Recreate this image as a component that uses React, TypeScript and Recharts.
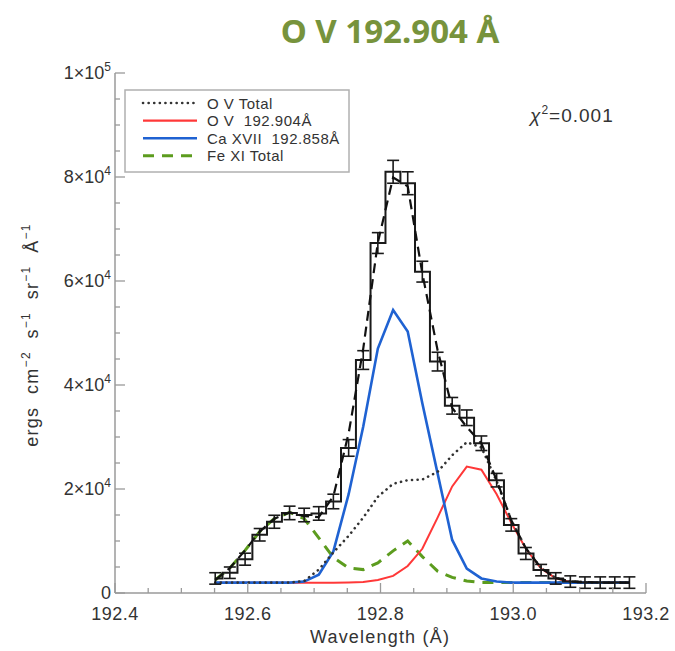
import React from 'react';
import { ComposedChart, Line, XAxis, YAxis, ErrorBar } from 'recharts';

// ---------- data ----------
const wavelengths = [
  192.551, 192.573, 192.596, 192.618, 192.640, 192.663, 192.685, 192.707, 192.729, 192.752,
  192.774, 192.796, 192.819, 192.841, 192.863, 192.886, 192.908, 192.930, 192.952, 192.975,
  192.997, 193.019, 193.042, 193.064, 193.086, 193.108, 193.131, 193.153, 193.175,
];
const observed = [
  2800, 3900, 6500, 11200, 13700, 15400, 15000, 15300, 17600, 27900,
  44800, 67300, 81000, 78800, 61800, 44500, 36000, 33700, 28800, 21700,
  13100, 7600, 4400, 2800, 2200, 2000, 2000, 2000, 2000,
];
const observedErr = [
  1100, 1100, 1150, 1200, 1250, 1300, 1300, 1300, 1400, 1600,
  1800, 2000, 2200, 2200, 2000, 1800, 1600, 1500, 1400, 1300,
  1200, 1150, 1100, 1100, 1100, 1100, 1100, 1100, 1100,
];
const totalFit = [
  2500, 4800, 8200, 11800, 14300, 15500, 14800, 14600, 18600, 30700,
  47000, 67400, 79900, 78200, 61500, 46700, 35600, 31900, 28800, 21700,
  14000, 8600, 4800, 2900, 2200, 2100, 2000, 2000, 2000,
];
const ovTotal = [
  2000, 2000, 2000, 2000, 2000, 2000, 2300, 4500, 7800, 11000,
  14500, 18500, 21000, 21700, 21800, 23300, 26500, 29000, 28000, 21500,
  14000, 8600, 4800, 2900, 2200, 2050, 2000, 2000, 2000,
];
const ov192904 = [
  1950, 1950, 1950, 1950, 1950, 1950, 1950, 1950, 1950, 2000,
  2100, 2500, 3300, 5200, 8500, 14500, 20500, 24300, 23700, 19000,
  13500, 8500, 4700, 2800, 2100, 2000, 2000, 2000, 2000,
];
const caXVII = [
  2000, 2000, 2000, 2000, 2000, 2000, 2200, 3500, 8000, 19000,
  32000, 47000, 54400, 50300, 36500, 23000, 10200, 4700, 2800, 2200,
  2000, 2000, 2000, 2000, 2000, 2000, 2000, 2000, 2000,
];
const feXITotal = [
  2500, 4800, 8200, 11800, 14300, 15500, 14300, 10600, 6800, 4800,
  4500, 5800, 8100, 10000, 7000, 4200, 3000, 2300, 2000, 2000,
  2000, 2000, 2000, 2000, 2000, 2000, 2000, 2000, 2000,
];

const xTicks = [
  192.4, 192.45, 192.5, 192.55, 192.6, 192.65, 192.7, 192.75, 192.8,
  192.85, 192.9, 192.95, 193.0, 193.05, 193.1, 193.15, 193.2,
];
const xMajorTicks = [192.4, 192.6, 192.8, 193.0, 193.2];
const xMajorLabels = ['192.4', '192.6', '192.8', '193.0', '193.2'];

const yTicks = [
  0, 5000, 10000, 15000, 20000, 25000, 30000, 35000, 40000, 45000, 50000,
  55000, 60000, 65000, 70000, 75000, 80000, 85000, 90000, 95000, 100000,
];
const yMajorTicks = [0, 20000, 40000, 60000, 80000, 100000];
const yMantissa = ['0', '2', '4', '6', '8', '1'];
const yExponent = ['', '4', '4', '4', '4', '5'];

const legendLabels = ['O V Total', 'O V  192.904Å', 'Ca XVII  192.858Å', 'Fe XI Total'];

const data = wavelengths.map((w, i) => ({
  w,
  obs: observed[i],
  err: observedErr[i],
  total: totalFit[i],
  ovTotal: ovTotal[i],
  ov: ov192904[i],
  ca: caXVII[i],
  fe: feXITotal[i],
}));

// ---------- styles ----------
const FRAME = '#9a9a9a';
const LABEL = '#333333';
const FONT = '"Liberation Sans", Arial, sans-serif';
const C_BLUE = '#1f62d2';
const C_RED = '#ff3838';
const C_GREEN = '#5c9c1e';
const C_DOT = '#333333';

const findIdx = (arr: number[], v: number) => arr.findIndex((a) => Math.abs(a - v) < 1e-6);

const BottomTick = (props: any) => {
  const { x, y, payload } = props;
  const mi = findIdx(xMajorTicks, payload.value);
  const len = mi >= 0 ? 10 : 5;
  return (
    <g>
      <line x1={x} x2={x} y1={y} y2={y - len} stroke={FRAME} strokeWidth={1.3} />
      {mi >= 0 && (
        <text x={x} y={y + 27} textAnchor="middle" fontSize={18} fill={LABEL} fontFamily={FONT} letterSpacing={0.5}>
          {xMajorLabels[mi]}
        </text>
      )}
    </g>
  );
};

const TopTick = (props: any) => {
  const { x, y, payload } = props;
  const mi = findIdx(xMajorTicks, payload.value);
  const len = mi >= 0 ? 10 : 5;
  return <line x1={x} x2={x} y1={y} y2={y + len} stroke={FRAME} strokeWidth={1.3} />;
};

const LeftTick = (props: any) => {
  const { x, y, payload } = props;
  const mi = findIdx(yMajorTicks, payload.value);
  const len = mi >= 0 ? 10 : 5;
  return (
    <g>
      <line x1={x} x2={x + len} y1={y} y2={y} stroke={FRAME} strokeWidth={1.3} />
      {mi >= 0 && (
        <text x={x - 4} y={y + 6} textAnchor="end" fontSize={18} fill={LABEL} fontFamily={FONT}>
          {yMantissa[mi]}
          {yExponent[mi] !== '' && <tspan>×10</tspan>}
          {yExponent[mi] !== '' && (
            <tspan dy={-8} fontSize={12}>
              {yExponent[mi]}
            </tspan>
          )}
        </text>
      )}
    </g>
  );
};

const RightTick = (props: any) => {
  const { x, y, payload } = props;
  const mi = findIdx(yMajorTicks, payload.value);
  const len = mi >= 0 ? 10 : 5;
  return <line x1={x} x2={x - len} y1={y} y2={y} stroke={FRAME} strokeWidth={1.3} />;
};

export default function App() {
  return (
    <div style={{ position: 'absolute', left: 0, top: 0, width: 675, height: 651, overflow: 'hidden', background: '#fff' }}>
      <ComposedChart
        width={675}
        height={651}
        data={data}
        margin={{ top: 73, right: 29, bottom: 18, left: 55 }}
      >
        <XAxis
          dataKey="w"
          type="number"
          domain={[192.4, 193.2]}
          allowDataOverflow
          ticks={xTicks}
          interval={0}
          tick={<BottomTick />}
          tickLine={false}
          tickSize={0}
          tickMargin={0}
          height={40}
          axisLine={{ stroke: FRAME, strokeWidth: 1.5 }}
        />
        <XAxis
          xAxisId="top"
          dataKey="w"
          type="number"
          orientation="top"
          domain={[192.4, 193.2]}
          allowDataOverflow
          ticks={xTicks}
          interval={0}
          tick={<TopTick />}
          tickLine={false}
          tickSize={0}
          tickMargin={0}
          height={0}
          axisLine={{ stroke: FRAME, strokeWidth: 1.5 }}
        />
        <YAxis
          type="number"
          domain={[0, 100000]}
          allowDataOverflow
          ticks={yTicks}
          interval={0}
          tick={<LeftTick />}
          tickLine={false}
          tickSize={0}
          tickMargin={0}
          width={60}
          axisLine={{ stroke: FRAME, strokeWidth: 1.5 }}
        />
        <YAxis
          yAxisId="right"
          orientation="right"
          type="number"
          domain={[0, 100000]}
          allowDataOverflow
          ticks={yTicks}
          interval={0}
          tick={<RightTick />}
          tickLine={false}
          tickSize={0}
          tickMargin={0}
          width={0}
          axisLine={{ stroke: FRAME, strokeWidth: 1.5 }}
        />
        <Line dataKey="fe" stroke={C_GREEN} strokeWidth={3} strokeDasharray="11 8" dot={false} activeDot={false} isAnimationActive={false} />
        <Line dataKey="ov" stroke={C_RED} strokeWidth={2} dot={false} activeDot={false} isAnimationActive={false} />
        <Line dataKey="ca" stroke={C_BLUE} strokeWidth={2.6} dot={false} activeDot={false} isAnimationActive={false} />
        <Line dataKey="ovTotal" stroke={C_DOT} strokeWidth={2.6} strokeDasharray="0.1 5.5" strokeLinecap="round" dot={false} activeDot={false} isAnimationActive={false} />
        <Line type="step" dataKey="obs" stroke="#1a1a1a" strokeWidth={2} dot={false} activeDot={false} isAnimationActive={false}>
          <ErrorBar dataKey="err" width={6} stroke="#1a1a1a" strokeWidth={1.6} direction="y" />
        </Line>
        <Line dataKey="total" stroke="#111" strokeWidth={2.2} strokeDasharray="10 6" dot={false} activeDot={false} isAnimationActive={false} />
      </ComposedChart>

      <svg width={675} height={651} style={{ position: 'absolute', left: 0, top: 0, pointerEvents: 'none' }}>
        <text x={390} y={43} textAnchor="middle" fontSize={33} fontWeight="bold" fill="#77933c" fontFamily='"Noto Sans", "Open Sans", sans-serif'>
          O V 192.904 Å
        </text>
        <text x={530} y={122} fontSize={19} fill={LABEL} fontFamily={FONT} letterSpacing={1}>
          <tspan fontStyle="italic">χ</tspan>
          <tspan dy={-8} fontSize={12}>2</tspan>
          <tspan dy={8}>=0.001</tspan>
        </text>
        <text x={380} y={643} textAnchor="middle" fontSize={18} fill={LABEL} fontFamily={FONT} letterSpacing={1.2}>
          Wavelength (Å)
        </text>
        <text transform="translate(38,335) rotate(-90)" textAnchor="middle" fontSize={18} fill={LABEL} fontFamily={FONT} letterSpacing={1.3} style={{ whiteSpace: 'pre' }}>
          <tspan>ergs  cm</tspan>
          <tspan dy={-8} fontSize={12}>−2</tspan>
          <tspan dy={8}>  s</tspan>
          <tspan dy={-8} fontSize={12}>−1</tspan>
          <tspan dy={8}>  sr</tspan>
          <tspan dy={-8} fontSize={12}>−1</tspan>
          <tspan dy={8}>  Å</tspan>
          <tspan dy={-8} fontSize={12}>−1</tspan>
        </text>
        {/* legend */}
        <rect x={125} y={90} width={224} height={82} fill="#fff" stroke="#b0b0b0" strokeWidth={1.5} />
        {legendLabels.map((lab, i) => {
          const cy = 103 + i * 17.6;
          const styles = [
            { stroke: C_DOT, dash: '0.1 5.5', w: 2.6, cap: 'round' },
            { stroke: C_RED, dash: undefined, w: 2.2, cap: 'butt' },
            { stroke: C_BLUE, dash: undefined, w: 2.6, cap: 'butt' },
            { stroke: C_GREEN, dash: '11 8', w: 3, cap: 'butt' },
          ][i];
          return (
            <g key={lab}>
              <line x1={143} x2={197} y1={cy} y2={cy} stroke={styles.stroke} strokeWidth={styles.w} strokeDasharray={styles.dash} strokeLinecap={styles.cap as any} />
              <text x={207} y={cy + 5.5} fontSize={15} fill={LABEL} fontFamily={FONT} style={{ whiteSpace: 'pre', letterSpacing: 0.5 }}>
                {lab}
              </text>
            </g>
          );
        })}
      </svg>
    </div>
  );
}
